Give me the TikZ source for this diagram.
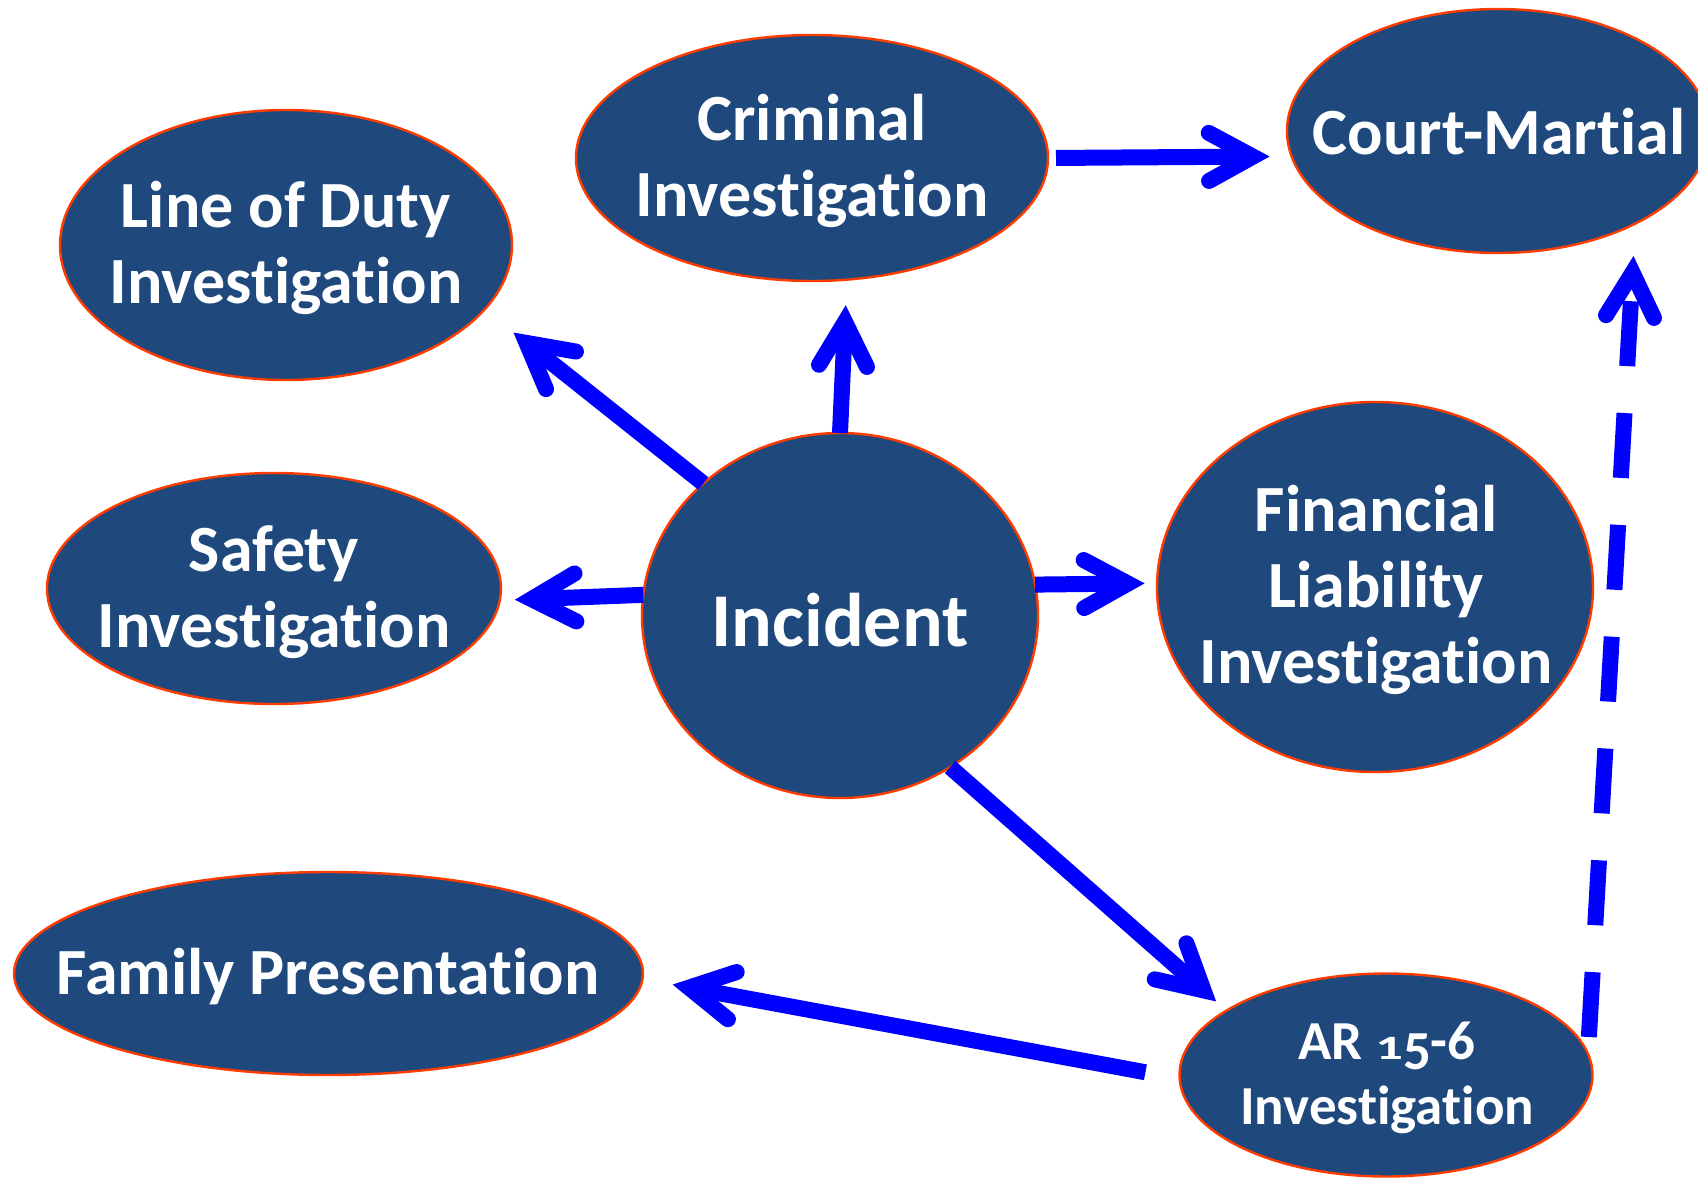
\documentclass[tikz,border=0pt]{standalone}
\usepackage{graphicx}
\usepackage{fontspec}
\setmainfont{Carlito}[Ligatures=NoCommon]
\usetikzlibrary{shapes.geometric,arrows.meta}
\definecolor{nodefill}{HTML}{1F497D}
\definecolor{rim}{HTML}{FF3C00}
\definecolor{arrowblue}{HTML}{0000FF}
% old-style figure shapes for the regulation number
\newcommand\osfone{\scalebox{1}[0.62]{1}}
\newcommand\osffive{\raisebox{-0.18em}{5}}
\begin{document}
\begin{tikzpicture}[x=0.5pt,y=-0.5pt,
  bubble/.style={ellipse, draw=rim, line width=1.2pt, fill=nodefill, inner sep=0pt, outer sep=0pt},
  lbl/.style={text=white, font=\bfseries\fontsize{33}{38}\selectfont, align=center, inner sep=0pt},
  biglbl/.style={lbl, font=\bfseries\fontsize{38}{44}\selectfont},
  smalllbl/.style={lbl, font=\bfseries\fontsize{27.5}{32.5}\selectfont},
  link/.style={draw=arrowblue, line width=8pt,
    -{Straight Barb[length=22pt,width=24pt,line cap=round,line join=miter]}},
]
\clip (0,0) rectangle (1698,1178);
\fill[white] (0,0) rectangle (1698,1178);

% ellipses
\node[bubble, minimum width=226pt, minimum height=135pt]   (lod)   at (286,245)  {};
\node[bubble, minimum width=236pt, minimum height=123pt]   (crim)  at (812,158)  {};
\node[bubble, minimum width=211pt, minimum height=122pt]   (court) at (1498,131) {};
\node[bubble, minimum width=227pt, minimum height=115.5pt] (safe)  at (274,588.5) {};
\node[bubble, minimum width=198pt, minimum height=182.5pt] (inc)   at (840,615.5) {};
\node[bubble, minimum width=218pt, minimum height=185pt]   (fin)   at (1375,587) {};
\node[bubble, minimum width=314.5pt, minimum height=101.5pt] (fam) at (328.5,973.5) {};
\node[bubble, minimum width=206.5pt, minimum height=101.5pt] (ar)  at (1386,1075) {};

% labels
\node[lbl]      (lodtxt)   at (286,248)  {Line of Duty\\Investigation};
\node[lbl]      (crimtxt)  at (812,161)  {Criminal\\Investigation};
\node[lbl]      (courttxt) at (1499,132) {Court-Martial};
\node[lbl]      (safetxt)  at (274,592)  {Safety\\Investigation};
\node[biglbl]   (inctxt)   at (840,620)  {Incident};
\node[lbl]      (fintxt)   at (1376,590) {Financial\\Liability\\Investigation};
\node[lbl]      (famtxt)   at (328,977)  {Family Presentation};
\node[smalllbl] (artxt)    at (1387,1078) {AR \osfone\osffive-6\\Investigation};

% connectors
\draw[link, shorten >=18.5pt] (inc.136) -- (lod.-18);
\draw[link, shorten >=12.8pt] (inc.90) -- (crim.-74);
\draw[link, shorten <=4pt, shorten >=11pt] (crim.-0.85) -- (court.187.4);
\draw[link, shorten >=7.5pt] (inc.174.2) -- (safe.-3.66);
\draw[link, shorten >=6.2pt] (inc.9.2) -- (fin.179.1);
\draw[link, shorten >=6.9pt] (inc.-54.8) -- (ar.158.7);
\draw[link, shorten <=17.4pt, shorten >=15.3pt] (ar.181.9) -- (fam.-1.34);
\draw[link, dash pattern=on 32.5pt off 23.5pt, shorten <=8.4pt, shorten >=16.2pt] (ar.6.82) -- (court.-34.5);
\end{tikzpicture}
\end{document}
